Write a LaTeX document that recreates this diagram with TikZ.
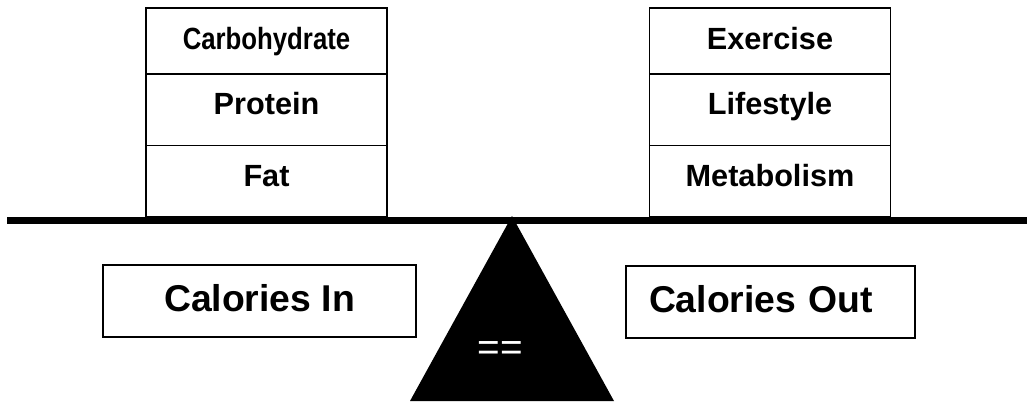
\documentclass[tikz,border=0pt]{standalone}
\usepackage{fontspec}
\setmainfont{Liberation Sans}
\usetikzlibrary{positioning}

\begin{document}
\begin{tikzpicture}[x=0.75pt,y=0.75pt,
  stackbox/.style={draw=black,line width=1pt,fill=white,outer sep=0pt,
    minimum width=180.75pt,minimum height=53.6pt,inner sep=0pt,
    text height=16.5pt,text depth=9pt,
    font=\fontsize{23}{27}\bfseries\selectfont},
  calbox/.style={draw=black,line width=1pt,fill=white,outer sep=0pt,
    minimum height=54pt,inner sep=0pt,text height=20pt,text depth=4pt,
    font=\fontsize{28}{32}\bfseries\selectfont}
]
\useasboundingbox (0,0) rectangle (1027,401);

% fulcrum
\fill[black] (512,185) -- (410,0) -- (614,0) -- cycle;
\node[text=white,font=\fontsize{29}{32}\selectfont] (eq) at (500,50) {==};

% beam
\coordinate (beamL) at (7,180.5);
\coordinate (beamR) at (1027,180.5);
\draw[line width=5.6pt] (beamL) -- (beamR);

% calories in
\node[stackbox,minimum height=49.5pt,text depth=4.5pt] (carb) at (266.5,360) {\scalebox{0.84}[1]{Carbohydrate}};
\node[stackbox,below=0pt of carb] (prot) {Protein};
\node[stackbox,below=0pt of prot] (fat) {Fat};

% calories out
\node[stackbox,minimum height=49.5pt,text depth=4.5pt] (exer) at (770,360) {Exercise};
\node[stackbox,below=0pt of exer] (life) {Lifestyle};
\node[stackbox,below=0pt of life] (meta) {Metabolism};

\node[calbox,minimum width=234.75pt] (calin) at (259.5,100) {Calories In};
\node[calbox,inner xsep=17.25pt,text width=182.25pt,align=left] (calout) at (770.5,99) {Calories Out};
\end{tikzpicture}
\end{document}
